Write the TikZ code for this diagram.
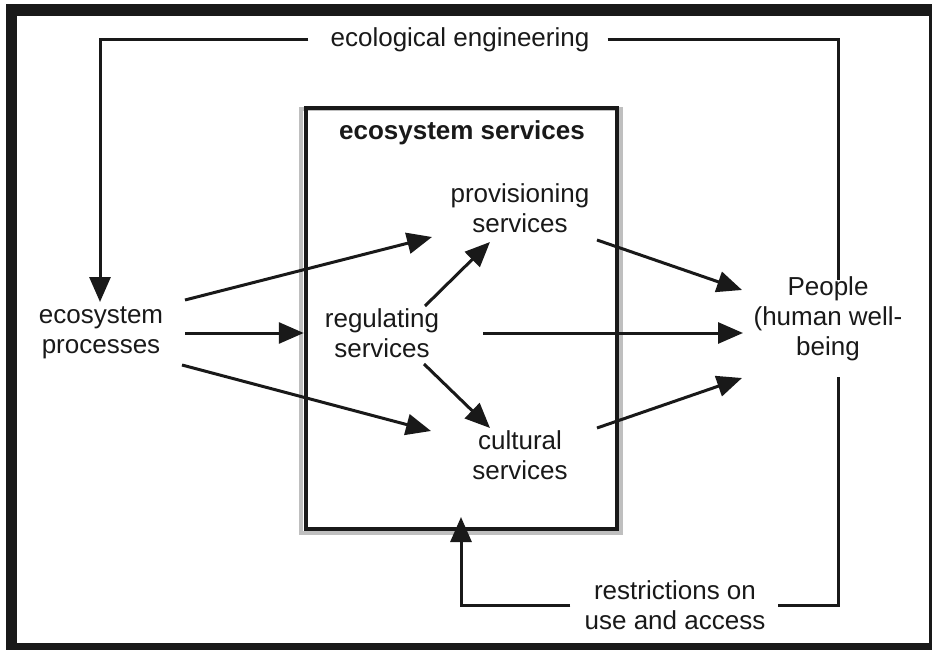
\documentclass[tikz,border=0pt]{standalone}
\usepackage{fontspec}
\setmainfont{Liberation Sans}
\usetikzlibrary{arrows.meta}
\begin{document}
\begin{tikzpicture}[x=1pt,y=-1pt,
  lbl/.style={font=\fontsize{26}{30}\selectfont, align=center, inner sep=0pt, text=black!90},
  conn/.style={line width=3pt, draw=black!90, -{Triangle[length=25pt,width=21pt]}},
  plain/.style={line width=3pt, draw=black!90},
  boxst/.style={draw=black!90, line width=4.5pt, minimum width=311pt, minimum height=421pt, inner sep=0pt},
  shadowst/.style={draw=black!25, line width=4pt, minimum width=320pt, minimum height=424pt, inner sep=0pt},
]
\useasboundingbox (0,0) rectangle (932,650);
\fill[black!90] (6,4) rectangle (932,650);
\fill[white] (17,16) rectangle (929,643);

\node[shadowst] (shadow) at (461,321) {};
\node[boxst] (box) at (461.5,318.5) {};

\node[lbl] (ee) at (460,40) {ecological engineering};
\node[lbl] (ep) at (101,333) {ecosystem\\processes};
\node[lbl, font=\bfseries\fontsize{26}{30}\selectfont] (es) at (462,133) {ecosystem services};
\node[lbl] (prov) at (520,208) {provisioning\\services};
\node[lbl] (reg) at (382,333) {regulating\\services};
\node[lbl] (cult) at (520,455) {cultural\\services};
\node[lbl] (ppl) at (828,319) {People\\(human well-\\being};
\node[lbl] (res) at (675,605) {restrictions on\\use and access};

% coordinates for arrow ends
\coordinate (eptop) at (100,302);
\coordinate (ep1) at (185,300);
\coordinate (ep2) at (185,333);
\coordinate (ep3) at (182,365);
\coordinate (provin) at (432,237);
\coordinate (cultin) at (431,431);
\coordinate (reg1) at (425,306);
\coordinate (reg2) at (424,364);
\coordinate (reg3) at (483,333);
\coordinate (provin2) at (490,242);
\coordinate (cultin2) at (490,428);
\coordinate (provout) at (597,240);
\coordinate (cultout) at (597,428);
\coordinate (p1) at (742,290);
\coordinate (p2) at (743,333);
\coordinate (p3) at (742,378);
\coordinate (pplTop) at (838,280);
\coordinate (pplBot) at (838,377);
\coordinate (boxin) at (461,517);

\draw[conn] ([xshift=-22pt]ee.west) -| (eptop);
\draw[plain] ([xshift=18pt]ee.east) -| (pplTop);
\draw[plain] (pplBot) |- ([xshift=12pt]res.east);
\draw[conn] ([xshift=-14pt]res.west) -| (boxin);

\draw[conn] (ep1) -- (provin);
\draw[conn] (ep2) -- (ep2 -| box.west);
\draw[conn] (ep3) -- (cultin);
\draw[conn] (reg1) -- (provin2);
\draw[conn] (reg2) -- (cultin2);
\draw[conn] (reg3) -- (p2);
\draw[conn] (provout) -- (p1);
\draw[conn] (cultout) -- (p3);
\end{tikzpicture}
\end{document}
